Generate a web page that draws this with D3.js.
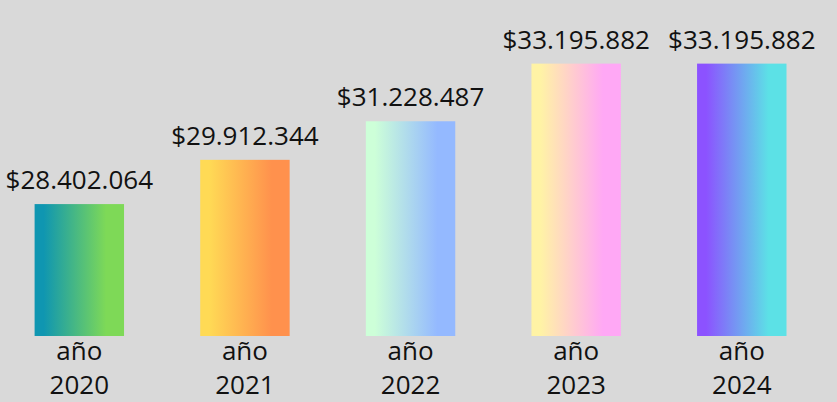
<!DOCTYPE html>
<html>
<head>
<meta charset="utf-8">
<script src="https://cdn.jsdelivr.net/npm/d3@7"></script>
<style>
  html, body { margin: 0; padding: 0; background: #d9d9d9; }
  svg { display: block; }
  text { font-family: "Open Sans", sans-serif; fill: #111; }
</style>
</head>
<body>
<svg id="chart" width="837" height="402"></svg>
<script>
"use strict";
// data
const years = ['2020', '2021', '2022', '2023', '2024'];
const amounts = [28402064, 29912344, 31228487, 33195882, 33195882];
const valueLabels = ['$28.402.064', '$29.912.344', '$31.228.487', '$33.195.882', '$33.195.882'];
const colorsLeft = ['#0f96b1', '#ffda55', '#cdffd8', '#fff3a5', '#8c52ff'];
const colorsRight = ['#7ed957', '#ff914d', '#94b9ff', '#ffa8f5', '#5ce1e6'];

const rows = years.map((y, i) => ({
  year: y, value: amounts[i], label: valueLabels[i], c0: colorsLeft[i], c1: colorsRight[i]
}));

const svg = d3.select('#chart');
const baseline = 336;

const x = d3.scaleBand()
  .domain(years)
  .range([34.6, 786.5])
  .paddingInner(0.46);

// the baseline does not sit at zero in the original graphic
const y = d3.scaleLinear()
  .domain([23900000, 33200000])
  .range([baseline, 63.5]);

//one horizontal gradient per bar
const defs = svg.append('defs');
const grad = defs.selectAll('linearGradient')
  .data(rows)
  .enter()
  .append('linearGradient')
  .attr('id', (d, i) => 'g' + i)
  .attr('x1', 0).attr('x2', 1).attr('y1', 0).attr('y2', 0);
grad.append('stop').attr('offset', 0.1).attr('stop-color', d => d.c0);
grad.append('stop').attr('offset', 0.8).attr('stop-color', d => d.c1);

svg.selectAll('rect.bar')
  .data(rows)
  .enter()
  .append('rect')
  .attr('class', 'bar')
  .attr('x', d => x(d.year))
  .attr('y', d => y(d.value))
  .attr('width', x.bandwidth())
  .attr('height', d => baseline - y(d.value))
  .attr('fill', (d, i) => `url(#g${i})`);

//value labels above the bars
svg.selectAll('text.value')
  .data(rows)
  .enter()
  .append('text')
  .attr('class', 'value')
  .attr('x', d => x(d.year) + x.bandwidth() / 2)
  .attr('y', d => y(d.value) - 15)
  .attr('text-anchor', 'middle')
  .style('font-size', '26px')
  .text(d => d.label);

//category labels, two lines
const cat = svg.selectAll('text.cat')
  .data(rows)
  .enter()
  .append('text')
  .attr('class', 'cat')
  .attr('text-anchor', 'middle')
  .style('font-size', '26px');
cat.append('tspan')
  .attr('x', d => x(d.year) + x.bandwidth() / 2)
  .attr('y', baseline + 24)
  .text('año');
cat.append('tspan')
  .attr('x', d => x(d.year) + x.bandwidth() / 2)
  .attr('y', baseline + 58)
  .text(d => d.year);
</script>
</body>
</html>
